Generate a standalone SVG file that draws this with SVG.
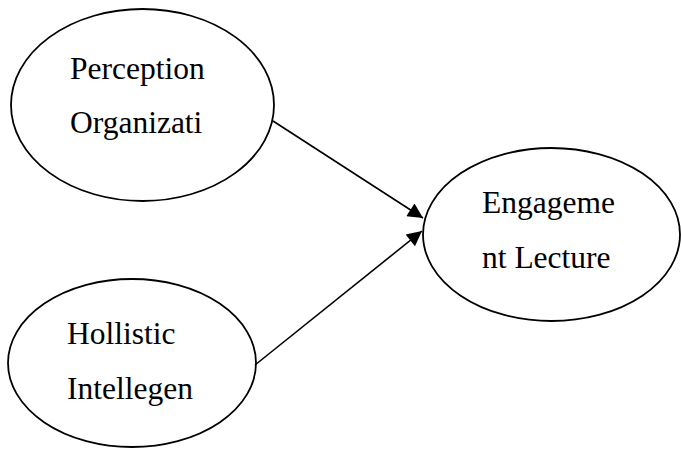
<svg xmlns="http://www.w3.org/2000/svg" width="681" height="449" viewBox="0 0 681 449">
<style>
.node ellipse{fill:#fff;stroke:#000;stroke-width:1.8}
.node text{font-size:31.5px;fill:#000}
.conn line{stroke:#000;stroke-width:1.6}
</style>
<defs>
<marker id="arr" viewBox="0 0 10 10" refX="10" refY="5" markerUnits="userSpaceOnUse" markerWidth="18" markerHeight="15" orient="auto">
<path d="M0,0 L10,5 L0,10 z" fill="#000"/>
</marker>
</defs>
<rect width="681" height="449" fill="#fff"/>
<g id="n1" class="node" font-family="Liberation Serif, DejaVu Serif, serif">
<ellipse cx="142.5" cy="105" rx="131.5" ry="96"/>
<text x="70" y="79">Perception</text>
<text x="70" y="133">Organizati</text>
</g>
<g id="n2" class="node" font-family="Liberation Serif, DejaVu Serif, serif">
<ellipse cx="132" cy="363" rx="124" ry="84"/>
<text x="67" y="344">Hollistic</text>
<text x="67" y="399">Intellegen</text>
</g>
<g id="n3" class="node" font-family="Liberation Serif, DejaVu Serif, serif">
<ellipse cx="551.5" cy="234.5" rx="128.5" ry="86.5"/>
<text x="482" y="213">Engageme</text>
<text x="482" y="268">nt Lecture</text>
</g>
<g id="connectors" class="conn">
<line x1="273" y1="121" x2="423" y2="218" marker-end="url(#arr)"/>
<line x1="255" y1="365" x2="422" y2="231" marker-end="url(#arr)"/>
</g>
</svg>
